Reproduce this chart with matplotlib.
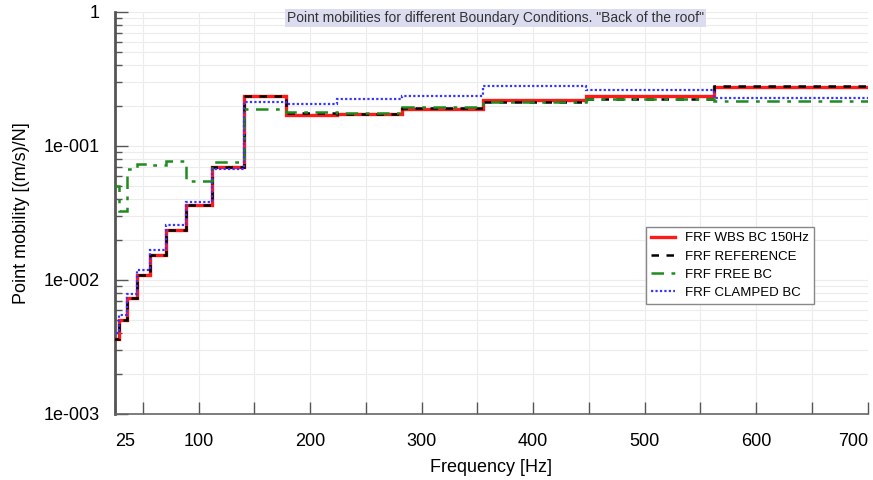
import numpy as np
import matplotlib.pyplot as plt
from matplotlib.ticker import FixedLocator, FuncFormatter, LogLocator, NullFormatter

plt.rcParams['font.family'] = ['Liberation Sans', 'DejaVu Sans']

# third-octave band edges [Hz]
edges = [22.4, 28.2, 35.5, 44.7, 56.2, 70.8, 89.1, 112, 141, 178, 224, 282, 355, 447, 562, 708]

wbs = [0.00365, 0.0050, 0.0074, 0.0109, 0.0153, 0.0237, 0.0363, 0.070,
       0.238, 0.170, 0.172, 0.190, 0.222, 0.237, 0.274]
ref = [0.00365, 0.0050, 0.0074, 0.0109, 0.0153, 0.0237, 0.0363, 0.070,
       0.236, 0.176, 0.174, 0.192, 0.212, 0.224, 0.280]
free = [0.0504, 0.0327, 0.0676, 0.0737, 0.072, 0.0776, 0.0549, 0.0762,
        0.190, 0.180, 0.175, 0.194, 0.212, 0.224, 0.218]
clamped = [0.0040, 0.0055, 0.0079, 0.0119, 0.0167, 0.0257, 0.038, 0.0676,
           0.214, 0.206, 0.226, 0.238, 0.282, 0.262, 0.230]

fig = plt.figure(figsize=(8.73, 4.80), dpi=100)
ax = fig.add_axes([0.1317, 0.1375, 0.8623, 0.8375])

ax.stairs(wbs, edges, baseline=None, color='#ff1a1a', lw=2.4, label='FRF WBS BC 150Hz', zorder=3)
ax.stairs(ref, edges, baseline=None, color='black', lw=1.8, ls=(0, (3, 3)), label='FRF REFERENCE', zorder=4)
ax.stairs(free, edges, baseline=None, color='#1e8c1e', lw=1.8, ls=(0, (5, 3, 1.5, 3)), label='FRF FREE BC', zorder=4)
ax.stairs(clamped, edges, baseline=None, color='#3535ff', lw=1.6, ls=(0, (1, 1)), label='FRF CLAMPED BC', zorder=5)

ax.set_yscale('log')
ax.set_xlim(25, 700)
ax.set_ylim(1e-3, 1)

xticks = [25, 100, 200, 300, 400, 500, 600, 700]
ax.xaxis.set_major_locator(FixedLocator(xticks))
ax.xaxis.set_minor_locator(FixedLocator([50, 150, 250, 350, 450, 550, 650]))
labels = ax.set_xticklabels([str(t) for t in xticks])
labels[0].set_ha('left')
labels[-1].set_ha('right')

ax.yaxis.set_major_locator(FixedLocator([1e-3, 1e-2, 1e-1, 1]))
ax.yaxis.set_minor_locator(LogLocator(base=10, subs=np.arange(2, 10)))
ax.yaxis.set_minor_formatter(NullFormatter())
ax.yaxis.set_major_formatter(FuncFormatter(lambda v, p: '1' if v >= 1 else '1e-%03d' % round(-np.log10(v))))

ax.tick_params(axis='both', which='both', direction='in', colors='#555555', labelcolor='black', labelsize=13)
ax.tick_params(axis='y', which='major', length=9, width=1, pad=11)
ax.tick_params(axis='y', which='minor', length=5, width=1)
ax.tick_params(axis='x', which='both', length=9, width=1, pad=14)

ax.grid(True, which='both', axis='both', color='#ececec', lw=0.8)
ax.set_axisbelow(True)
for s in ['top', 'right']:
    ax.spines[s].set_visible(False)
ax.spines['left'].set_color('#555555')
ax.spines['left'].set_linewidth(2)
ax.spines['bottom'].set_color('#666666')
ax.spines['bottom'].set_linewidth(1.2)

ax.set_xlabel('Frequency [Hz]', fontsize=13, labelpad=6)
ax.set_ylabel('Point mobility [(m/s)/N]', fontsize=13, labelpad=10)

ax.text(0.505, 0.985, 'Point mobilities for different Boundary Conditions. "Back of the roof"',
        transform=ax.transAxes, ha='center', va='center', fontsize=10, color='#333333',
        bbox=dict(facecolor='#dcdcf0', edgecolor='none', pad=1.5))

leg = ax.legend(loc='upper left', bbox_to_anchor=(0.696, 0.482), fontsize=9.5,
                fancybox=False, framealpha=1, edgecolor='#888888', handlelength=1.8,
                borderpad=0.4, labelspacing=0.45)
leg.get_frame().set_linewidth(1)

fig.savefig('out.png', dpi=100)
